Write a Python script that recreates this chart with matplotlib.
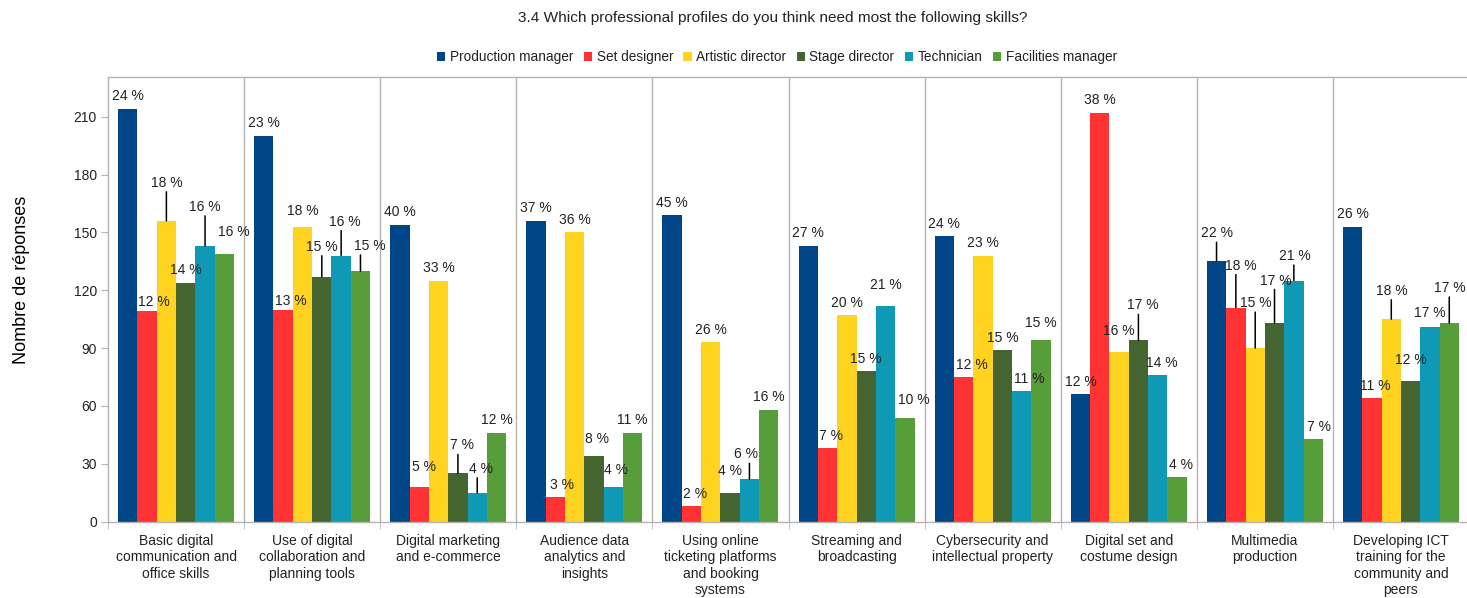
import numpy as np
import matplotlib
matplotlib.use("Agg")
import matplotlib.pyplot as plt
from matplotlib.patches import Patch

plt.rcParams['font.family'] = ['Liberation Sans', 'DejaVu Sans']

# ---- data ----
skills = [
    "Basic digital\ncommunication and\noffice skills",
    "Use of digital\ncollaboration and\nplanning tools",
    "Digital marketing\nand e-commerce",
    "Audience data\nanalytics and\ninsights",
    "Using online\nticketing platforms\nand booking\nsystems",
    "Streaming and\nbroadcasting",
    "Cybersecurity and\nintellectual property",
    "Digital set and\ncostume design",
    "Multimedia\nproduction",
    "Developing ICT\ntraining for the\ncommunity and\npeers",
]
profiles = ["Production manager", "Set designer", "Artistic director",
            "Stage director", "Technician", "Facilities manager"]

production_manager = [214, 200, 154, 156, 159, 143, 148, 66, 135, 153]
set_designer       = [109, 110, 18, 13, 8, 38, 75, 212, 111, 64]
artistic_director  = [156, 153, 125, 150, 93, 107, 138, 88, 90, 105]
stage_director     = [124, 127, 25, 34, 15, 78, 89, 94, 103, 73]
technician         = [143, 138, 15, 18, 22, 112, 68, 76, 125, 101]
facilities_manager = [139, 130, 46, 46, 58, 54, 94, 23, 43, 103]

y_ticks = [0, 30, 60, 90, 120, 150, 180, 210]

series = [production_manager, set_designer, artistic_director,
          stage_director, technician, facilities_manager]
colors = ['#004586', '#ff3333', '#ffd320', '#456530', '#0f99b5', '#579d3a']

# ---- label placement: (dx px, rise above bar top px, leader line) ----
DEFAULT_RISE = 12.5
label_nudge = {
    (0, 1): (7, 9.5, False), (0, 2): (0, 38, True), (0, 4): (0, 39, True),
    (0, 5): (9, 21.5, False),
    (1, 1): (8, 8.5, False), (1, 2): (0, 16, False), (1, 3): (0, 30, True),
    (1, 4): (4, 34, True), (1, 5): (9, 25, True),
    (2, 1): (5, 20, False), (2, 3): (4, 28, True), (2, 4): (4, 24, True),
    (3, 1): (7, 12, False), (3, 3): (3, 17, False), (3, 4): (3, 16.5, False),
    (4, 1): (4, 12, False), (4, 3): (0, 21.5, False), (4, 4): (-3, 25, True),
    (5, 1): (3, 12, False), (5, 4): (0, 21, False), (5, 5): (9, 17.5, False),
    (6, 1): (8.5, 12, False), (6, 4): (8, 12, False), (6, 5): (0, 17, False),
    (7, 2): (0, 20.5, False), (7, 3): (4.5, 35, True), (7, 4): (4, 12.5, False),
    (7, 5): (4, 12, False),
    (8, 0): (0, 28, True), (8, 1): (4.5, 42, True), (8, 2): (1, 45, True),
    (8, 3): (1, 42.5, True), (8, 4): (1, 24.5, True), (8, 5): (5.5, 12, False),
    (9, 1): (3.5, 12, False), (9, 2): (1, 28.5, True), (9, 3): (0, 20.5, False),
    (9, 4): (0, 13.5, False), (9, 5): (1, 35, True),
}

W, H = 1467, 598
fig = plt.figure(figsize=(W / 100, H / 100), dpi=100)
ax = fig.add_axes([108 / W, (H - 521.7) / H, 1361 / W, 444.4 / H])

n_cat = len(skills)
x = np.arange(n_cat)
bar_w = 0.142
totals = np.sum(np.array(series), axis=0)
text_color = '#222222'
grid_color = '#b3b3b3'

for j, (vals, col) in enumerate(zip(series, colors)):
    xs = x + (j - 2.5) * bar_w
    ax.bar(xs, vals, width=bar_w, color=col, edgecolor='none', zorder=2)
    for i, v in enumerate(vals):
        pct = int(np.floor(100.0 * v / totals[i] + 0.5))
        dx, rise, leader = label_nudge.get((i, j), (0, DEFAULT_RISE, False))
        ax.annotate(f"{pct} %", xy=(xs[i], v), xytext=(dx, rise),
                    textcoords='offset pixels', ha='center', va='center',
                    fontsize=10, color=text_color, zorder=5)
        if leader:
            ax.annotate('', xy=(xs[i], v), xytext=(0, rise - 9),
                        textcoords='offset pixels',
                        arrowprops=dict(arrowstyle='-', lw=1.1, color='black',
                                        shrinkA=0, shrinkB=0), zorder=4)

ax.set_xlim(-0.5, n_cat - 0.5)
ax.set_ylim(0, 230.4)

# category separators
for b in np.arange(0.5, n_cat - 0.5, 1.0):
    ax.axvline(b, color=grid_color, lw=1, zorder=1)

ax.set_xticks(x)
ax.set_xticklabels(skills, fontsize=10, color=text_color, linespacing=1.2)
ax.tick_params(axis='x', which='major', length=0, pad=9)
ax.set_xticks(np.arange(-0.5, n_cat, 1.0), minor=True)
ax.tick_params(axis='x', which='minor', length=5, color=grid_color, direction='out')

ax.set_yticks(y_ticks)
ax.set_yticklabels([str(t) for t in y_ticks], fontsize=10, color=text_color)
ax.tick_params(axis='y', length=5, color=grid_color, pad=3, direction='out')

for s in ax.spines.values():
    s.set_color(grid_color)
    s.set_linewidth(1)

ax.set_ylabel("Nombre de réponses", fontsize=13, color='black')
ax.yaxis.set_label_coords((30 - 108) / 1361, (521.7 - 280) / 444.4)

fig.text(773 / W, 1 - 18 / H,
         "3.4 Which professional profiles do you think need most the following skills?",
         ha='center', va='center', fontsize=11.1, color=text_color)

handles = [Patch(facecolor=c, edgecolor='none') for c in colors]
fig.legend(handles, profiles, loc='center', bbox_to_anchor=(777 / W, 1 - 57 / H),
           ncol=6, frameon=False, fontsize=9.8, handlelength=0.6, handleheight=0.6,
           handletextpad=0.35, columnspacing=0.75, labelcolor=text_color,
           borderaxespad=0, borderpad=0)

fig.savefig("out.png", dpi=100, facecolor='white')
